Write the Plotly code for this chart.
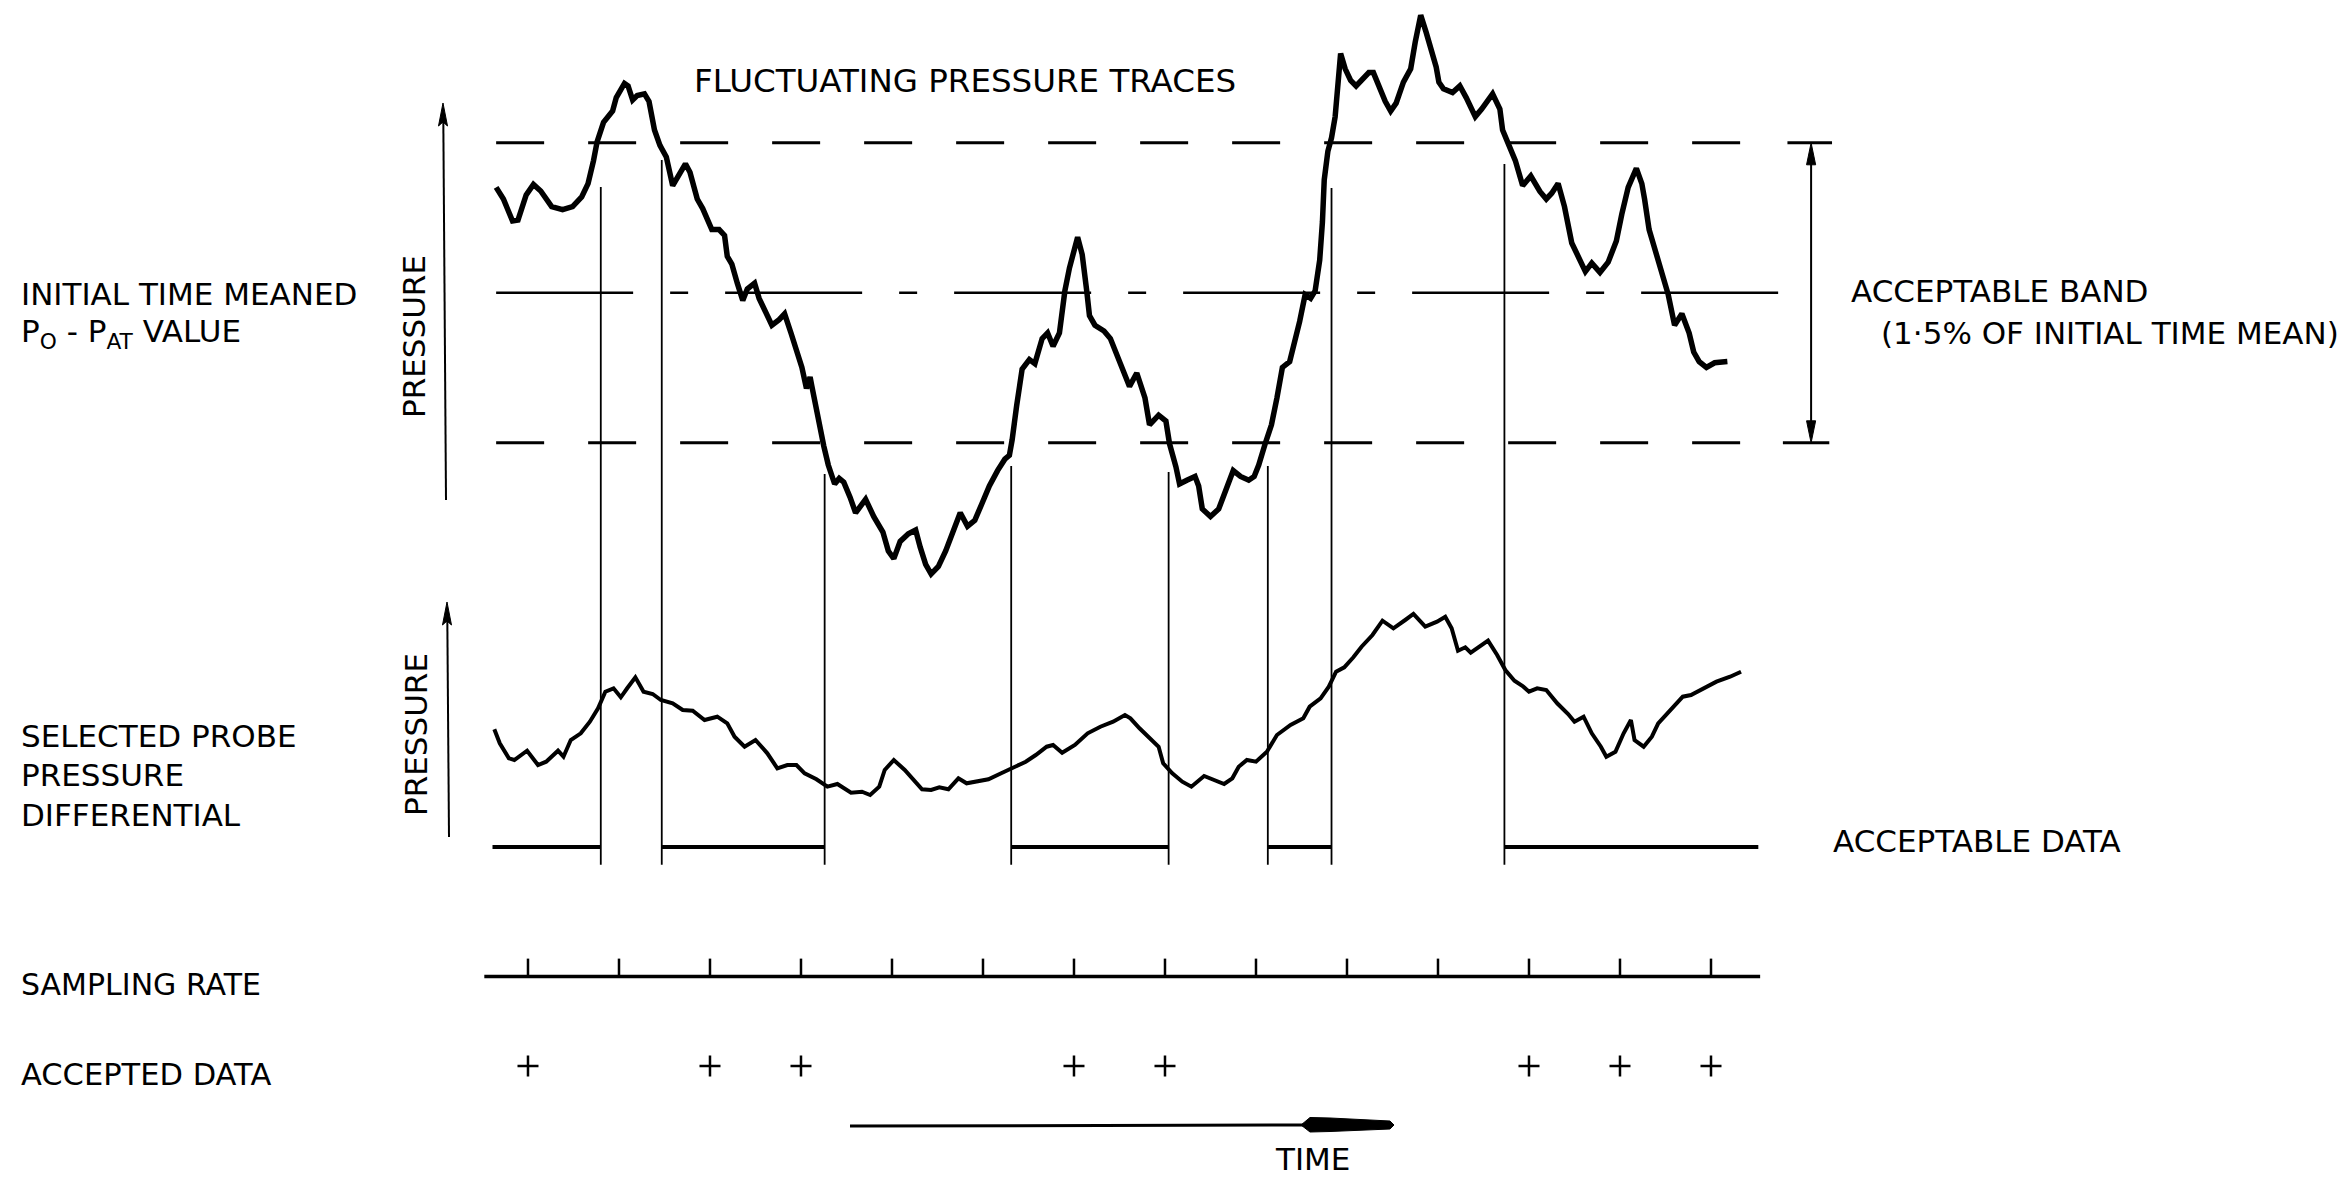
import plotly.graph_objects as go

W, H = 2348, 1182
FONT = "DejaVu Sans"
INK = "black"

# ---------------- data ----------------
# time base in ms, one sample every 100 ms
sample_times = [0, 100, 200, 300, 400, 500, 600, 700, 800, 900, 1000, 1100, 1200, 1300]
accepted_times = [0, 200, 300, 600, 700, 1100, 1200, 1300]

# instants at which the fluctuating trace leaves / re-enters the acceptable band
boundary_times = [80, 147, 326, 531, 704, 813, 883, 1073]
boundary_tops = [100.529, 100.664, 99.094, 99.134, 99.104, 99.134, 100.524, 100.644]
acceptable_spans = [(-39, 80), (147, 326), (531, 704), (813, 883), (1073, 1352)]

# initial time-meaned Po-Pat value (% of itself) and the acceptable band half-width
mean_level = 100.0
band_half = 0.75

# fluctuating pressure trace, % of initial time mean
trace_t = [-35, -27, -17, -11, -2, 6, 14, 26, 38, 49, 59, 66, 72, 76, 83, 93, 97, 106, 110, 115,
           120, 128, 133, 139, 145, 152, 159, 166, 173, 178, 186, 192, 202, 210, 216, 219, 224, 230,
           236, 241, 249, 254, 262, 268, 276, 282, 289, 295, 301, 306, 310, 312, 316, 320, 325, 330,
           337, 342, 347, 354, 360, 371, 380, 390, 396, 402, 409, 418, 426, 431, 437, 443, 451, 459,
           468, 475, 483, 491, 499, 507, 516, 524, 529, 532, 537, 543, 551, 557, 565, 571, 577, 584,
           590, 595, 604, 609, 614, 617, 623, 633, 640, 647, 655, 661, 669, 678, 683, 693, 701, 705,
           712, 716, 724, 733, 737, 741, 750, 759, 767, 775, 783, 792, 798, 803, 810, 817, 823, 829,
           837, 842, 848, 854, 860, 865, 870, 873, 875, 879, 883, 887, 890, 893, 898, 904, 910, 916,
           924, 929, 934, 942, 948, 954, 962, 970, 975, 981, 987, 993, 998, 1001, 1006, 1016, 1024,
           1031, 1041, 1048, 1060, 1068, 1071, 1078, 1085, 1093, 1102, 1112, 1119, 1125, 1132, 1139,
           1147, 1155, 1162, 1169, 1178, 1187, 1196, 1202, 1209, 1218, 1224, 1227, 1232, 1237, 1245,
           1253, 1260, 1268, 1276, 1281, 1287, 1295, 1304, 1318]
trace_p = [100.527, 100.469, 100.359, 100.364, 100.489, 100.542, 100.509, 100.431, 100.416, 100.431,
           100.479, 100.546, 100.661, 100.756, 100.852, 100.909, 100.976, 101.047, 101.034, 100.964,
           100.986, 100.995, 100.957, 100.814, 100.737, 100.679, 100.536, 100.594, 100.645, 100.603,
           100.469, 100.421, 100.316, 100.316, 100.287, 100.182, 100.144, 100.048, 99.962, 100.019,
           100.048, 99.972, 99.886, 99.838, 99.866, 99.895, 99.799, 99.723, 99.627, 99.522,
           99.579, 99.532, 99.436, 99.340, 99.235, 99.139, 99.044, 99.072, 99.053, 98.977,
           98.900, 98.967, 98.881, 98.804, 98.709, 98.671, 98.757, 98.795, 98.814, 98.728,
           98.642, 98.594, 98.632, 98.709, 98.814, 98.900, 98.833, 98.862, 98.948, 99.034,
           99.111, 99.168, 99.187, 99.264, 99.436, 99.618, 99.666, 99.646, 99.771, 99.799,
           99.733, 99.799, 100.010, 100.124, 100.278, 100.192, 100.010, 99.886, 99.838, 99.809,
           99.771, 99.685, 99.589, 99.532, 99.599, 99.474, 99.340, 99.388, 99.359, 99.245,
           99.130, 99.044, 99.063, 99.082, 99.034, 98.919, 98.881, 98.919, 99.015, 99.111,
           99.082, 99.063, 99.082, 99.139, 99.244, 99.340, 99.474, 99.627, 99.656, 99.742,
           99.857, 99.991, 99.972, 100.010, 100.163, 100.354, 100.565, 100.708, 100.775, 100.881,
           101.043, 101.196, 101.120, 101.062, 101.034, 101.062, 101.101, 101.101, 101.043, 100.957,
           100.909, 100.948, 101.053, 101.120, 101.254, 101.388, 101.302, 101.215, 101.129, 101.053,
           101.020, 101.001, 101.034, 100.976, 100.881, 100.919, 100.995, 100.919, 100.814, 100.737,
           100.661, 100.536, 100.584, 100.507, 100.469, 100.498, 100.546, 100.431, 100.249, 100.173,
           100.106, 100.148, 100.102, 100.153, 100.259, 100.393, 100.527, 100.622, 100.546, 100.469,
           100.316, 100.239, 100.106, 99.991, 99.838, 99.895, 99.799, 99.704, 99.656, 99.627,
           99.650, 99.656]

# selected probe pressure differential (arbitrary units)
probe_t = [-37, -31, -21, -15, -1, 11, 20, 33, 39, 47, 58, 68, 77, 85, 94, 102, 109, 118, 127, 137,
           146, 159, 170, 181, 194, 208, 219, 227, 238, 250, 263, 274, 285, 295, 304, 317, 329, 340,
           355, 367, 376, 386, 392, 402, 414, 424, 433, 443, 452, 462, 473, 482, 494, 506, 520, 532,
           547, 558, 570, 577, 587, 601, 615, 629, 643, 656, 662, 672, 686, 693, 698, 708, 719, 729,
           743, 755, 765, 774, 781, 790, 800, 812, 823, 838, 852, 859, 871, 880, 888, 897, 907, 916,
           928, 939, 951, 964, 973, 986, 999, 1008, 1015, 1022, 1030, 1036, 1046, 1055, 1065, 1074,
           1084, 1093, 1100, 1109, 1119, 1131, 1143, 1150, 1160, 1169, 1179, 1185, 1195, 1204, 1212,
           1216, 1226, 1235, 1242, 1254, 1269, 1278, 1292, 1306, 1321, 1333]
probe_dp = [2.354, 2.074, 1.774, 1.740, 1.926, 1.640, 1.706, 1.926, 1.806, 2.140, 2.274, 2.506, 2.774,
            3.106, 3.174, 2.994, 3.174, 3.394, 3.106, 3.060, 2.940, 2.874, 2.740, 2.726, 2.540, 2.606,
            2.474, 2.206, 2.006, 2.140, 1.874, 1.574, 1.640, 1.640, 1.474, 1.354, 1.206, 1.260, 1.086,
            1.106, 1.040, 1.206, 1.540, 1.740, 1.540, 1.340, 1.154, 1.140, 1.194, 1.154, 1.374, 1.274,
            1.306, 1.354, 1.474, 1.574, 1.706, 1.840, 2.006, 2.040, 1.886, 2.040, 2.274, 2.406, 2.506,
            2.640, 2.574, 2.374, 2.140, 2.006, 1.674, 1.474, 1.306, 1.206, 1.420, 1.326, 1.260, 1.374,
            1.606, 1.740, 1.706, 1.906, 2.240, 2.440, 2.574, 2.806, 2.974, 3.206, 3.506, 3.594, 3.794,
            4.006, 4.240, 4.526, 4.374, 4.540, 4.660, 4.406, 4.506, 4.606, 4.374, 3.926, 3.994, 3.886,
            4.006, 4.126, 3.840, 3.540, 3.326, 3.220, 3.106, 3.174, 3.140, 2.874, 2.660, 2.506, 2.606,
            2.274, 2.006, 1.806, 1.906, 2.274, 2.540, 2.140, 2.006, 2.206, 2.474, 2.706, 3.006, 3.040,
            3.174, 3.306, 3.406, 3.506]

# ---------------- axes ----------------
# x: 0.91 px per ms, sample 0 sits 528 px from the left edge
X_RANGE = [-580.2, 2000.0]
# y  : pressure trace (% of mean), 200 px per %
Y_TOP_RANGE = [95.554, 101.464]
# y2 : probe differential, 50 px per unit, zero on the acceptable-data line
Y_PROBE_RANGE = [-6.70, 16.94]
# y3 : sample rows (1 = sampling rate, 0 = accepted data)
Y_ROW_RANGE = [-1.296, 11.911]
MARKER_FOOT = 97.14      # lower end of the boundary markers, on the y scale
BAND_ARROW_T = 1410      # time position of the band dimension line


def gaps(pairs):
    xs, ys = [], []
    for (x0, y0), (x1, y1) in pairs:
        xs += [x0, x1, None]
        ys += [y0, y1, None]
    return xs, ys


fig = go.Figure()


def line(x, y, width, yaxis="y", dash="solid"):
    fig.add_trace(go.Scatter(x=x, y=y, mode="lines", yaxis=yaxis, hoverinfo="skip",
                             line=dict(color=INK, width=width, dash=dash)))


# band limits and mean line
upper, lower = mean_level + band_half, mean_level - band_half
line([-35, 1333], [upper, upper], 3, dash="48px,44px")
line([-35, 1333], [lower, lower], 3, dash="48px,44px")
line([-35, 1381], [mean_level, mean_level], 2.5, dash="137px,37px,18px,37px")
# caps and shaft of the band dimension
line([1384, 1433], [upper, upper], 3)
line([1379, 1430], [lower, lower], 3)
line([BAND_ARROW_T, BAND_ARROW_T], [upper - 0.05, lower + 0.05], 2)

# boundary markers dropped from the pressure trace to the acceptable-data line
bx, by = gaps([((t, top), (t, MARKER_FOOT)) for t, top in zip(boundary_times, boundary_tops)])
line(bx, by, 1.8)

# fluctuating pressure trace
line(trace_t, trace_p, 5.5)

# probe pressure differential
line(probe_t, probe_dp, 4, yaxis="y2")

# acceptable data segments
sx, sy = gaps([((a, 0), (b, 0)) for a, b in acceptable_spans])
line(sx, sy, 4, yaxis="y2")

# sampling rate line with ticks
line([-48, 1354], [1, 1], 3.5, yaxis="y3")
tx, ty = gaps([((t, 1), (t, 1.2)) for t in sample_times])
line(tx, ty, 2.5, yaxis="y3")

# accepted samples
fig.add_trace(go.Scatter(x=accepted_times, y=[0] * len(accepted_times), mode="markers",
                         yaxis="y3", hoverinfo="skip",
                         marker=dict(symbol="cross-thin", size=15,
                                     line=dict(color=INK, width=2.5))))


def px(x, y):
    return x / W, 1 - y / H


def label(text, x, y, size=31, anchor="left", angle=0):
    ax_, ay_ = px(x, y)
    fig.add_annotation(x=ax_, y=ay_, xref="paper", yref="paper", text=text, showarrow=False,
                       xanchor=anchor, yanchor="middle", textangle=angle,
                       font=dict(family=FONT, size=size, color=INK))


label("FLUCTUATING PRESSURE TRACES", 692, 81, size=32.5)
label("INITIAL TIME MEANED", 19, 294)
label("P<sub>O</sub> - P<sub>AT</sub> VALUE", 19, 333)
label("PRESSURE", 414, 337, anchor="center", angle=-90)
label("ACCEPTABLE BAND", 1849, 291)
label("(1·5% OF INITIAL TIME MEAN)", 1879, 333)
label("SELECTED PROBE", 19, 736)
label("PRESSURE", 19, 775)
label("DIFFERENTIAL", 19, 815)
label("PRESSURE", 416, 735, anchor="center", angle=-90)
label("ACCEPTABLE DATA", 1831, 841)
label("SAMPLING RATE", 19, 984, size=30)
label("ACCEPTED DATA", 19, 1074, size=30.5)
label("TIME", 1312, 1159, anchor="center")


def poly(points, ref="paper"):
    if ref == "paper":
        pts = [px(a, b) for a, b in points]
    else:
        pts = points
    path = "M " + " L ".join(f"{a:.6f},{b:.6f}" for a, b in pts) + " Z"
    fig.add_shape(type="path", xref="paper" if ref == "paper" else "x",
                  yref="paper" if ref == "paper" else "y", path=path,
                  fillcolor=INK, line=dict(color=INK, width=1))


def seg(p0, p1, width):
    (x0, y0), (x1, y1) = px(*p0), px(*p1)
    fig.add_shape(type="line", xref="paper", yref="paper", x0=x0, y0=y0, x1=x1, y1=y1,
                  line=dict(color=INK, width=width))


# pressure axis arrows
seg((446, 500), (443.3, 118), 2)
poly([(443, 103), (447.5, 126), (443, 122), (438.5, 126)])
seg((449, 837), (447.3, 617), 2)
poly([(447, 602), (451.5, 625), (447, 621), (442.5, 625)])

# band dimension arrowheads
poly([(BAND_ARROW_T, upper), (BAND_ARROW_T + 5, upper - 0.11), (BAND_ARROW_T - 5, upper - 0.11)],
     ref="data")
poly([(BAND_ARROW_T, lower), (BAND_ARROW_T + 5, lower + 0.11), (BAND_ARROW_T - 5, lower + 0.11)],
     ref="data")

# time arrow
seg((850, 1126), (1306, 1125), 3)
poly([(1301, 1125), (1310, 1117.5), (1330, 1118), (1390, 1121), (1394, 1125),
      (1390, 1129), (1330, 1131.5), (1310, 1132)])

hidden = dict(visible=False, fixedrange=True, autorange=False)
fig.update_layout(
    width=W, height=H,
    margin=dict(l=0, r=0, t=0, b=0),
    paper_bgcolor="white", plot_bgcolor="white",
    showlegend=False,
    xaxis=dict(range=X_RANGE, domain=[0, 1], **hidden),
    yaxis=dict(range=Y_TOP_RANGE, domain=[0, 1], **hidden),
    yaxis2=dict(range=Y_PROBE_RANGE, domain=[0, 1], overlaying="y", **hidden),
    yaxis3=dict(range=Y_ROW_RANGE, domain=[0, 1], overlaying="y", **hidden),
)

fig.write_html("out.html")
